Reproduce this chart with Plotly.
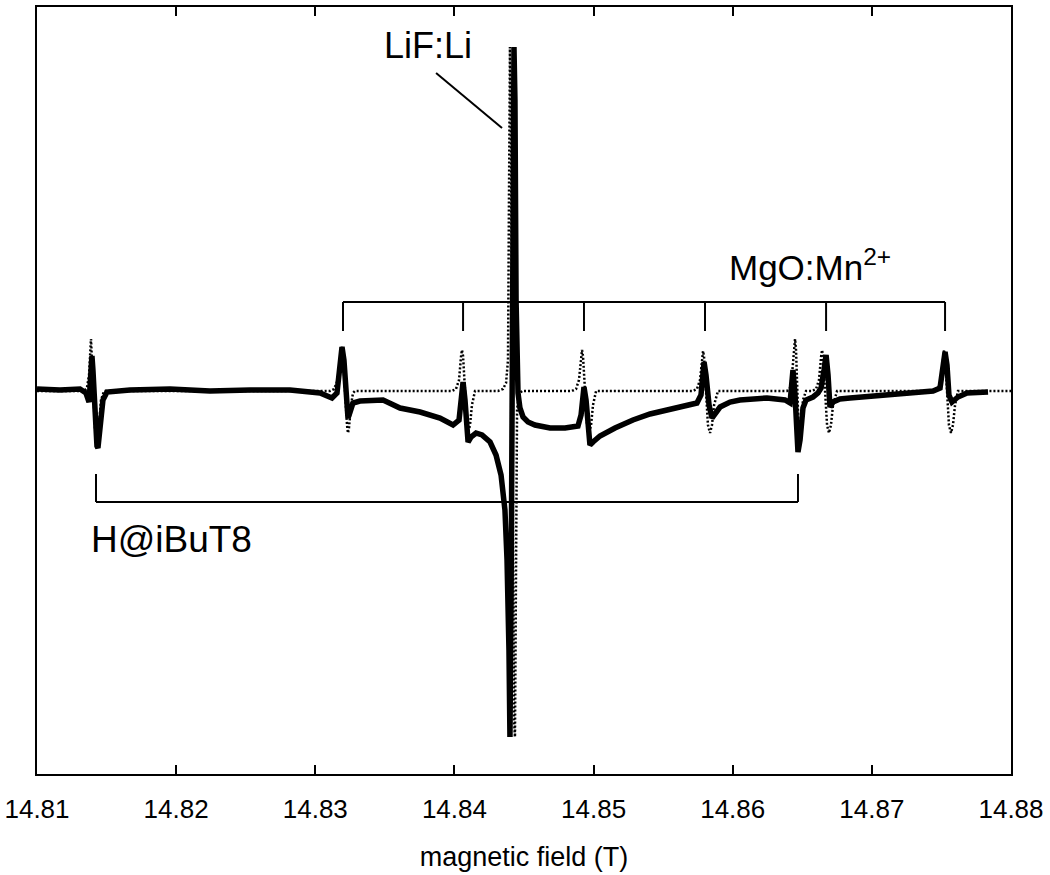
import plotly.graph_objects as go

# ---- data (field in T, intensity in arbitrary units) ----
exp_field = [
    14.81000, 14.81165, 14.81309, 14.81352, 14.81374, 14.81381, 14.81388, 14.81395, 14.81402, 14.81417,
    14.81431, 14.81438, 14.81453, 14.81474, 14.81503, 14.81668, 14.81956, 14.82243, 14.82531, 14.82818,
    14.83034, 14.83120, 14.83156, 14.83178, 14.83192, 14.83206, 14.83221, 14.83235, 14.83250, 14.83271,
    14.83321, 14.83393, 14.83487, 14.83609, 14.83753, 14.83896, 14.83990, 14.84033, 14.84047, 14.84062,
    14.84076, 14.84090, 14.84098, 14.84119, 14.84155, 14.84198, 14.84256, 14.84299, 14.84335, 14.84363,
    14.84378, 14.84392, 14.84399, 14.84407, 14.84414, 14.84421, 14.84428, 14.84435, 14.84443, 14.84457,
    14.84471, 14.84493, 14.84529, 14.84579, 14.84687, 14.84795, 14.84888, 14.84910, 14.84924, 14.84931,
    14.84946, 14.84960, 14.84974, 14.84996, 14.85046, 14.85154, 14.85283, 14.85406, 14.85528, 14.85657,
    14.85743, 14.85772, 14.85787, 14.85794, 14.85808, 14.85830, 14.85851, 14.85880, 14.85909, 14.85981,
    14.86052, 14.86246, 14.86376, 14.86412, 14.86426, 14.86433, 14.86448, 14.86462, 14.86469, 14.86484,
    14.86505, 14.86527, 14.86577, 14.86613, 14.86635, 14.86656, 14.86671, 14.86685, 14.86699, 14.86721,
    14.86771, 14.86843, 14.86987, 14.87202, 14.87440, 14.87490, 14.87511, 14.87526, 14.87540, 14.87554,
    14.87576, 14.87598, 14.87619, 14.87684, 14.87835,
]
exp_signal = [
    0.02, 0.01, 0.02, -0.02, -0.11, 0.06, 0.29, 0.35, 0.21, -0.29,
    -0.55, -0.57, -0.39, -0.09, -0.01, 0.01, 0.02, 0.00, 0.01, 0.01,
    -0.02, -0.07, -0.02, 0.26, 0.44, 0.31, -0.04, -0.27, -0.21, -0.12,
    -0.10, -0.09, -0.09, -0.17, -0.21, -0.27, -0.34, -0.29, -0.09, 0.09,
    -0.09, -0.44, -0.51, -0.46, -0.42, -0.44, -0.51, -0.64, -0.84, -1.19,
    -1.69, -2.59, -3.46, -2.09, 0.00, 2.41, 3.44, 2.91, 0.91, -0.02,
    -0.17, -0.26, -0.31, -0.34, -0.37, -0.37, -0.35, -0.24, -0.04, 0.04,
    -0.09, -0.39, -0.54, -0.51, -0.45, -0.37, -0.29, -0.23, -0.19, -0.14,
    -0.12, -0.04, 0.21, 0.29, 0.16, -0.14, -0.27, -0.21, -0.16, -0.11,
    -0.09, -0.07, -0.09, -0.12, 0.06, 0.21, -0.04, -0.49, -0.61, -0.49,
    -0.17, -0.09, -0.06, -0.02, 0.03, 0.21, 0.36, 0.16, -0.16, -0.11,
    -0.08, -0.07, -0.05, -0.02, 0.00, 0.03, 0.26, 0.39, 0.26, -0.04,
    -0.11, -0.08, -0.06, -0.02, -0.01,
]

sim_field = [
    14.81000, 14.81338, 14.81359, 14.81374, 14.81388, 14.81402, 14.81417, 14.81431, 14.81446, 14.81460, 14.81482,
    14.83106, 14.83135, 14.83156, 14.83170, 14.83185, 14.83192, 14.83199, 14.83214, 14.83228, 14.83235, 14.83242, 14.83257, 14.83271, 14.83285,
    14.83983, 14.84011, 14.84033, 14.84047, 14.84054, 14.84062, 14.84076, 14.84090, 14.84098, 14.84112, 14.84126, 14.84148,
    14.84313, 14.84349, 14.84371, 14.84385, 14.84392, 14.84399, 14.84407, 14.84414, 14.84421, 14.84428, 14.84435, 14.84443, 14.84450, 14.84464, 14.84486,
    14.84845, 14.84874, 14.84895, 14.84910, 14.84917, 14.84924, 14.84938, 14.84953, 14.84967, 14.84982, 14.84996, 14.85018,
    14.85715, 14.85743, 14.85765, 14.85779, 14.85787, 14.85794, 14.85808, 14.85822, 14.85837, 14.85851, 14.85866, 14.85894,
    14.86390, 14.86412, 14.86426, 14.86441, 14.86448, 14.86455, 14.86462, 14.86469, 14.86476, 14.86491, 14.86505, 14.86527,
    14.86570, 14.86599, 14.86620, 14.86635, 14.86642, 14.86649, 14.86663, 14.86678, 14.86692, 14.86706, 14.86721, 14.86750,
    14.87447, 14.87475, 14.87497, 14.87511, 14.87519, 14.87526, 14.87540, 14.87554, 14.87569, 14.87583, 14.87598, 14.87619,
    14.88000,
]
sim_signal = [
    0.00, 0.00, 0.03, 0.16, 0.52, 0.11, -0.39, -0.49, -0.34, -0.09, 0.00,
    0.00, 0.02, 0.09, 0.21, 0.41, 0.44, 0.36, -0.04, -0.34, -0.42, -0.37, -0.14, -0.02, 0.00,
    0.00, 0.02, 0.11, 0.34, 0.41, 0.35, -0.04, -0.34, -0.42, -0.34, -0.14, 0.00,
    0.00, 0.02, 0.08, 0.31, 1.91, 3.44, 2.41, 0.00, -2.09, -3.29, -3.46, -1.09, -0.19, -0.03, 0.00,
    0.00, 0.02, 0.11, 0.34, 0.41, 0.35, -0.04, -0.34, -0.42, -0.34, -0.14, 0.00,
    0.00, 0.02, 0.11, 0.34, 0.40, 0.34, -0.04, -0.34, -0.42, -0.34, -0.14, 0.00,
    0.00, 0.03, 0.16, 0.46, 0.52, 0.41, 0.01, -0.34, -0.49, -0.34, -0.09, 0.00,
    0.00, 0.02, 0.11, 0.34, 0.41, 0.35, -0.04, -0.34, -0.42, -0.34, -0.14, 0.00,
    0.00, 0.02, 0.11, 0.34, 0.41, 0.35, -0.04, -0.34, -0.42, -0.34, -0.14, 0.00,
    0.00,
]

# line positions for the stick-diagram brackets (T)
mgo_lines = [14.83199, 14.84062, 14.84931, 14.85801, 14.86671, 14.87526]
h_lines = [14.81424, 14.86469]
mgo_bar_level, mgo_tick_end = 0.89, 0.60
h_bar_level, h_tick_end = -1.11, -0.83

x_ticks = [14.81, 14.82, 14.83, 14.84, 14.85, 14.86, 14.87, 14.88]
x_labels = ["14.81", "14.82", "14.83", "14.84", "14.85", "14.86", "14.87", "14.88"]

FONT = "Arial, Liberation Sans, sans-serif"

fig = go.Figure()
fig.add_trace(go.Scatter(x=exp_field, y=exp_signal, mode="lines",
                         line=dict(color="black", width=5.5), showlegend=False))
fig.add_trace(go.Scatter(x=sim_field, y=sim_signal, mode="lines",
                         line=dict(color="black", width=2.5, dash="2px,2px"), showlegend=False))

shapes = []
# MgO:Mn2+ bracket
shapes.append(dict(type="line", xref="x", yref="y", x0=mgo_lines[0], x1=mgo_lines[-1],
                   y0=mgo_bar_level, y1=mgo_bar_level, line=dict(color="black", width=2)))
for xl in mgo_lines:
    shapes.append(dict(type="line", xref="x", yref="y", x0=xl, x1=xl,
                       y0=mgo_bar_level, y1=mgo_tick_end, line=dict(color="black", width=2)))
# H@iBuT8 bracket
shapes.append(dict(type="line", xref="x", yref="y", x0=h_lines[0], x1=h_lines[-1],
                   y0=h_bar_level, y1=h_bar_level, line=dict(color="black", width=2)))
for xl in h_lines:
    shapes.append(dict(type="line", xref="x", yref="y", x0=xl, x1=xl,
                       y0=h_bar_level, y1=h_tick_end, line=dict(color="black", width=2)))
# LiF pointer
shapes.append(dict(type="line", xref="x", yref="y", x0=14.83868, x1=14.84342,
                   y0=3.18, y1=2.63, line=dict(color="black", width=2)))

annotations = [
    dict(x=14.83810, y=3.46, xref="x", yref="y", text="LiF:Li", showarrow=False,
         font=dict(family=FONT, size=36, color="black"), xanchor="center", yanchor="middle"),
    dict(x=14.86556, y=1.26, xref="x", yref="y", text="MgO:Mn<sup>2+</sup>", showarrow=False,
         font=dict(family=FONT, size=35, color="black"), xanchor="center", yanchor="middle"),
    dict(x=14.81970, y=-1.48, xref="x", yref="y", text="H@iBuT8", showarrow=False,
         font=dict(family=FONT, size=37, color="black"), xanchor="center", yanchor="middle"),
]

fig.update_layout(
    width=1050, height=875,
    margin=dict(l=37, r=39, t=7, b=101),
    paper_bgcolor="white", plot_bgcolor="white",
    shapes=shapes, annotations=annotations,
    font=dict(family=FONT, color="black"),
    xaxis=dict(range=[14.81, 14.88], tickvals=x_ticks, ticktext=x_labels,
               ticks="inside", ticklen=9, tickwidth=2, tickcolor="black",
               showline=True, linecolor="black", linewidth=2, mirror="ticks",
               showgrid=False, zeroline=False, automargin=False,
               ticklabelstandoff=11,
               tickfont=dict(family=FONT, size=26, color="black"),
               title=dict(text="magnetic field (T)", font=dict(family=FONT, size=27, color="black"),
                          standoff=24)),
    yaxis=dict(range=[-3.83, 3.84], showticklabels=False, ticks="",
               showline=True, linecolor="black", linewidth=2, mirror=True,
               showgrid=False, zeroline=False, automargin=False),
)

fig.write_html("out.html", config={"displayModeBar": False},
               post_script="document.body.style.margin='0px';document.body.style.overflow='hidden';")
